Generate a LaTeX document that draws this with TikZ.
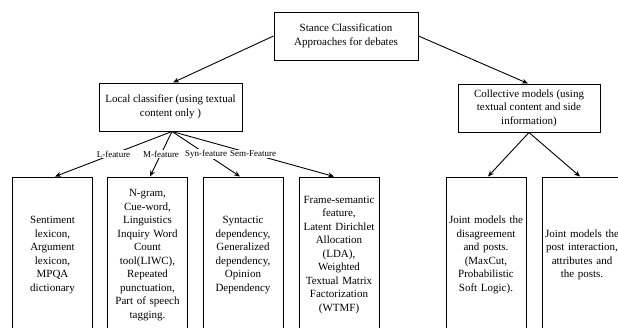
\documentclass[tikz,border=0pt]{standalone}
\usepackage{fontspec}
\setmainfont{Liberation Serif}
\usetikzlibrary{arrows.meta}
\begin{document}
\begin{tikzpicture}[x=1pt,y=-1pt,
  box/.style={draw,line width=1pt,align=center,inner sep=1pt,font=\fontsize{11}{13.5}\selectfont},
  upbox/.style={box,minimum height=48pt},
  leaf/.style={box,text width=78pt,minimum height=156pt},
  arr/.style={-{Stealth[length=6pt,width=5pt]},line width=0.9pt},
  lbl/.style={fill=white,inner sep=1pt,font=\fontsize{9}{10}\selectfont}]
\useasboundingbox (0,0) rectangle (618,327);
\clip (0,0) rectangle (618,327);
\fill[white] (0,0) rectangle (618,327);

\node[upbox,minimum width=144pt] (top) at (346,36) {Stance Classification\\Approaches for debates};
\node[upbox,minimum width=143pt] (local) at (170.5,107) {Local classifier (using textual\\content only )};
\node[upbox,minimum width=142pt] (coll) at (529,108) {Collective models (using\\textual content and side\\information)};

\node[leaf] (b1) at (52.5,255) {Sentiment\\lexicon,\\Argument\\lexicon,\\MPQA\\dictionary};
\node[leaf] (b2) at (147.5,255) {N-gram,\\Cue-word,\\Linguistics\\Inquiry Word\\Count\\tool(LIWC),\\Repeated\\punctuation,\\Part of speech\\tagging.};
\node[leaf] (b3) at (243,255) {Syntactic\\dependency,\\Generalized\\dependency,\\Opinion\\Dependency};
\node[leaf] (b4) at (339,255) {Frame-semantic\\feature,\\Latent Dirichlet\\Allocation\\(LDA),\\Weighted\\Textual Matrix\\Factorization\\(WTMF)};
\node[leaf] (b5) at (486,255) {Joint models the\\disagreement\\and posts.\\(MaxCut,\\Probabilistic\\Soft Logic).};
\node[leaf] (b6) at (582,255) {Joint models the\\post interaction,\\attributes and\\the posts.};

\draw[arr] (top.west) -- ([xshift=2.5pt]local.north);
\draw[arr] (top.east) -- ([xshift=-1pt]coll.north);

\draw[arr] ([xshift=1.5pt]local.south) -- node[lbl]{L-feature} ([xshift=2.5pt]b1.north);
\draw[arr] ([xshift=1.5pt]local.south) -- node[lbl]{M-feature} ([xshift=2.5pt]b2.north);
\draw[arr] ([xshift=1.5pt]local.south) -- node[lbl]{Syn-feature} ([xshift=-3pt]b3.north);
\draw[arr] ([xshift=1.5pt]local.south) -- node[lbl]{Sem-Feature} ([xshift=-5pt]b4.north);

\draw[arr] (coll.south) -- ([xshift=2pt]b5.north);
\draw[arr] (coll.south) -- ([xshift=-2pt]b6.north);
\end{tikzpicture}
\end{document}
